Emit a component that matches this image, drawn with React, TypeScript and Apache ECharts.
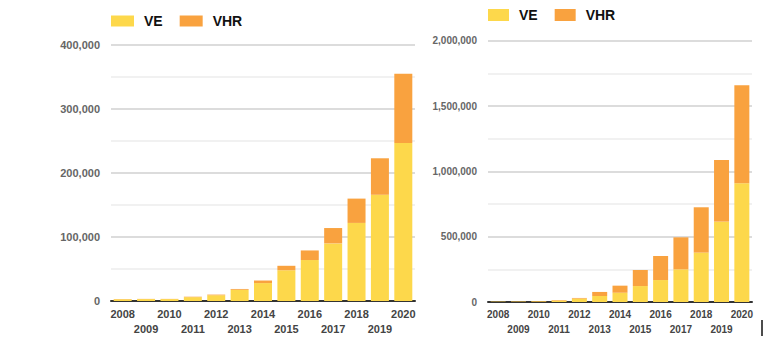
import React, { useEffect, useRef } from "react";
import * as echarts from "echarts";

const years = ["2008","2009","2010","2011","2012","2013","2014","2015","2016","2017","2018","2019","2020"];
// Left chart (annual)
const veLeft = [2800, 3000, 3000, 6000, 9000, 17500, 28000, 48000, 64000, 90000, 122000, 166000, 247000];
const vhrLeft = [200, 300, 300, 700, 1000, 1300, 4000, 7000, 15000, 24000, 38000, 57000, 108000];
// Right chart (cumulative)
const veRight = [3000, 3500, 5000, 11000, 26000, 46000, 71000, 122000, 168000, 250000, 378000, 615000, 909000];
const vhrRight = [500, 1000, 2000, 4000, 5000, 31000, 54000, 123000, 184000, 245000, 347000, 472000, 750000];

const YELLOW = "#FDD84B";
const ORANGE = "#F9A23F";

export default function App() {
  const ref = useRef<HTMLDivElement>(null);
  useEffect(() => {
    if (!ref.current) return;
    const chart = echarts.init(ref.current, null, { renderer: "svg" });
    const fmt = (step: number) => (v: number) =>
      v % step === 0 ? v.toLocaleString("en-US") : "";
    const xAxisBase = (gi: number, fs: number) => ({
      type: "category" as const,
      gridIndex: gi,
      data: years,
      axisTick: { show: false },
      axisLine: { lineStyle: { color: "#333", width: 2 } },
      axisLabel: {
        interval: 0,
        margin: 5,
        fontFamily: "Liberation Sans, Arial, sans-serif",
        fontWeight: "bold",
        fontSize: fs,
        color: "#444",
        lineHeight: 15,
        formatter: (v: string, i: number) => (i % 2 === 0 ? v : "\n" + v),
      },
    });
    const yAxisBase = (gi: number, max: number, interval: number, step: number, fs: number) => ({
      type: "value" as const,
      gridIndex: gi,
      min: 0,
      max,
      interval,
      axisLine: { show: false },
      axisTick: { show: false },
      axisLabel: {
        formatter: fmt(step),
        fontFamily: "Liberation Sans, Arial, sans-serif",
        fontWeight: "bold",
        fontSize: fs,
        color: "#666",
        margin: 11,
      },
      splitLine: { lineStyle: { color: ["#d0d0d0", "#ececec"], width: 1.5 } },
    });
    const legendBase = (left: number, top: number, iw: number, ih: number) => ({
      left,
      top,
      padding: 0,
      itemWidth: iw,
      itemHeight: ih,
      itemGap: 17,
      icon: "rect",
      textStyle: {
        fontFamily: "Liberation Sans, Arial, sans-serif",
        fontWeight: "bold",
        fontSize: 14,
        color: "#111",
        padding: [0, 0, 0, 5],
      },
      data: ["VE", "VHR"],
    });
    chart.setOption({
      animation: false,
      color: [YELLOW, ORANGE],
      legend: [
        { ...legendBase(111, 14, 23, 11) },
        { ...legendBase(488, 8, 21, 12) },
      ],
      grid: [
        { left: 111, right: 365, top: 45, bottom: 60 },
        { left: 488, right: 28, top: 40.7, bottom: 59 },
      ],
      xAxis: [xAxisBase(0, 11), xAxisBase(1, 10)],
      yAxis: [
        yAxisBase(0, 400000, 50000, 100000, 11),
        yAxisBase(1, 2000000, 250000, 500000, 10),
      ],
      series: [
        { name: "VE", type: "bar", stack: "a", xAxisIndex: 0, yAxisIndex: 0, barWidth: 18, data: veLeft, itemStyle: { color: YELLOW } },
        { name: "VHR", type: "bar", stack: "a", xAxisIndex: 0, yAxisIndex: 0, barWidth: 18, data: vhrLeft, itemStyle: { color: ORANGE } },
        { name: "VE", type: "bar", stack: "b", xAxisIndex: 1, yAxisIndex: 1, barWidth: 15, data: veRight, itemStyle: { color: YELLOW } },
        { name: "VHR", type: "bar", stack: "b", xAxisIndex: 1, yAxisIndex: 1, barWidth: 15, data: vhrRight, itemStyle: { color: ORANGE } },
      ],
      graphic: [
        { type: "line", shape: { x1: 762, y1: 320, x2: 762, y2: 336 }, style: { stroke: "#111", lineWidth: 1.5 } },
      ],
    });
    return () => chart.dispose();
  }, []);
  return (
    <div
      ref={ref}
      style={{ position: "fixed", left: 0, top: 0, width: 780, height: 361, background: "#fff" }}
    />
  );
}
